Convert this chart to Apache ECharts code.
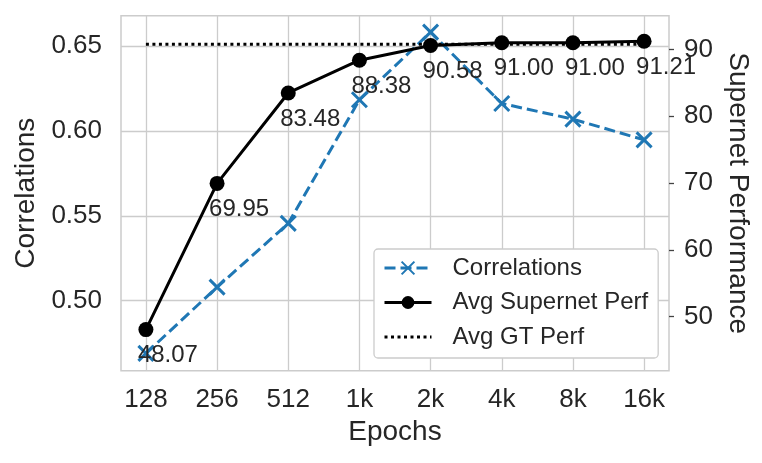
<!DOCTYPE html>
<html>
<head>
<meta charset="utf-8">
<script src="https://cdn.jsdelivr.net/npm/echarts@6/dist/echarts.min.js"></script>
<style>
html, body { margin: 0; padding: 0; background: #fff; }
#main { width: 762px; height: 463px; }
</style>
</head>
<body>
<div id="main"></div>
<script>
// data
var epochs = ['128', '256', '512', '1k', '2k', '4k', '8k', '16k'];
var correlations = [0.469, 0.508, 0.5455, 0.6183, 0.6581, 0.6161, 0.6069, 0.5947];
var supernetPerf = [48.07, 69.95, 83.48, 88.38, 90.58, 91.00, 91.00, 91.21];
var gtPerf = [90.76, 90.76, 90.76, 90.76, 90.76, 90.76, 90.76, 90.76];
var corrTicks = [0.50, 0.55, 0.60, 0.65];
var perfTicks = [50, 60, 70, 80, 90];
var epochIdx = [0, 1, 2, 3, 4, 5, 6, 7];

var FONT = 'Liberation Sans, Arial, sans-serif';
var TXT = '#262626';
var GRIDC = '#cccccc';

function pairs(vals) {
    return vals.map(function (v, i) { return [epochIdx[i], v]; });
}

var chart = echarts.init(document.getElementById('main'), null, {renderer: 'canvas'});
var option = {
    animation: false,
    backgroundColor: '#fff',
    textStyle: {fontFamily: FONT, color: TXT},
    grid: {
        left: 121, right: 93, top: 15.7, bottom: 92.3,
        show: true, borderColor: GRIDC, borderWidth: 1.5, backgroundColor: 'transparent'
    },
    xAxis: {
        type: 'value', min: -0.35, max: 7.35,
        name: 'Epochs', nameLocation: 'middle', nameGap: 48,
        nameTextStyle: {fontSize: 28, color: TXT, fontFamily: FONT},
        axisLine: {show: false},
        axisTick: {show: false, customValues: epochIdx},
        axisLabel: {
            customValues: epochIdx, margin: 16, fontSize: 26, color: TXT, fontFamily: FONT,
            formatter: function (v) { return epochs[Math.round(v)]; }
        },
        splitLine: {show: true, lineStyle: {color: GRIDC, width: 1.3}}
    },
    yAxis: [
        {
            type: 'value', min: 0.4588, max: 0.6678, position: 'left',
            name: 'Correlations', nameLocation: 'middle', nameGap: 81,
            nameTextStyle: {fontSize: 28, color: TXT, fontFamily: FONT},
            axisLine: {show: false},
            axisTick: {show: false, customValues: corrTicks},
            axisLabel: {
                customValues: corrTicks, margin: 19, fontSize: 26, color: TXT, fontFamily: FONT,
                formatter: function (v) { return v.toFixed(2); }
            },
            splitLine: {show: true, lineStyle: {color: GRIDC, width: 1.3}}
        },
        {
            type: 'value', min: 41.92, max: 95.04, position: 'right',
            name: 'Supernet Performance', nameLocation: 'middle', nameGap: 46, nameRotate: -90,
            nameTextStyle: {fontSize: 28, color: TXT, fontFamily: FONT},
            axisLine: {show: false},
            axisTick: {show: true, length: 5, customValues: perfTicks, lineStyle: {color: '#444', width: 1.3}},
            axisLabel: {
                customValues: perfTicks, margin: 15, fontSize: 26, color: TXT, fontFamily: FONT
            },
            splitLine: {show: false}
        }
    ],
    legend: {
        orient: 'vertical', left: 374, top: 249,
        data: ['Correlations', 'Avg Supernet Perf', 'Avg GT Perf'],
        itemWidth: 47, itemHeight: 16, itemGap: 10.5,
        padding: [7, 10, 9, 9],
        backgroundColor: '#fff', borderColor: GRIDC, borderWidth: 1.3, borderRadius: 4,
        lineStyle: {width: 3},
        textStyle: {fontSize: 24, color: TXT, fontFamily: FONT, padding: [0, 0, 0, 16]},
        z: 20
    },
    series: [
        {
            name: 'Correlations', type: 'line', xAxisIndex: 0, yAxisIndex: 0,
            data: pairs(correlations),
            symbol: 'path://M0,0L10,10M10,0L0,10', symbolSize: 15,
            lineStyle: {color: '#1f77b4', width: 3, type: [11, 5]},
            itemStyle: {color: '#1f77b4', borderColor: '#1f77b4', borderWidth: 3},
            z: 2
        },
        {
            name: 'Avg GT Perf', type: 'line', xAxisIndex: 0, yAxisIndex: 1,
            data: pairs(gtPerf), symbol: 'none',
            lineStyle: {color: '#000', width: 3, type: [3, 3.5]},
            itemStyle: {color: 'rgba(0,0,0,0)', borderColor: 'rgba(0,0,0,0)'},
            z: 3
        },
        {
            name: 'Avg Supernet Perf', type: 'line', xAxisIndex: 0, yAxisIndex: 1,
            data: pairs(supernetPerf),
            symbol: 'circle', symbolSize: 15,
            lineStyle: {color: '#000', width: 3},
            itemStyle: {color: '#000'},
            label: {
                show: true, position: 'inside', offset: [22, 26],
                fontSize: 24, color: TXT, fontFamily: FONT,
                formatter: function (p) { return p.value[1].toFixed(2); }
            },
            z: 4
        }
    ]
};
chart.setOption(option);
</script>
</body>
</html>
